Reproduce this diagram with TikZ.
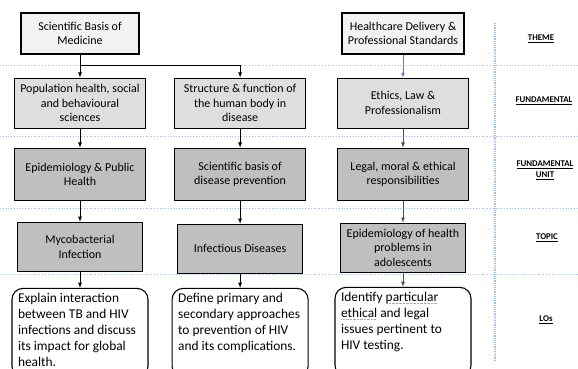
\documentclass[tikz,border=0pt]{standalone}
\usepackage{fontspec}
\setmainfont{Carlito}
\usetikzlibrary{positioning, arrows}

\definecolor{themefill}{HTML}{F2F2F2}
\definecolor{fundfill}{HTML}{DEDEDE}
\definecolor{unitfill}{HTML}{BFBFBF}
\definecolor{gridblue}{HTML}{A3BDE6}
\definecolor{linkblue}{HTML}{4F7FC9}
\definecolor{linkgray}{HTML}{505050}
\definecolor{spellgold}{HTML}{D2A64C}

\newsavebox{\spellbox}
\newcommand{\spellmark}[1]{\leavevmode\sbox{\spellbox}{#1}%
  \rlap{\raisebox{-2.4pt}{\color{spellgold}\hbox to \wd\spellbox{%
  \leaders\hbox to 1.4pt{\hss\rule{0.7pt}{0.7pt}\hss}\hfill}}}\usebox{\spellbox}}
\newcommand{\lobody}[1]{\parbox[t][79pt][t]{124pt}{\raggedright #1}}

\tikzset{
  box/.style={draw, line width=1.1pt, align=center, inner sep=2pt,
    font=\fontsize{12}{14.5}\selectfont},
  themebox/.style={box, fill=themefill, minimum height=41pt},
  fundbox/.style={box, fill=fundfill, minimum width=131pt, minimum height=50pt},
  unitbox/.style={box, fill=unitfill, minimum width=131pt, minimum height=52pt},
  topicbox/.style={box, fill=unitfill, minimum width=125pt, minimum height=49pt},
  lobox/.style={draw, line width=1.1pt, rounded corners=11pt, fill=white,
    minimum width=136pt, minimum height=89pt, inner sep=0pt,
    font=\fontsize{13.4}{16}\selectfont},
  rowlabel/.style={align=center, font=\fontsize{8.8}{11}\bfseries},
  link/.style={-latex, line width=0.8pt},
  rowline/.style={gridblue, dotted, line width=0.8pt}
}

\begin{document}
\begin{tikzpicture}[x=1pt, y=-1pt]
    \clip (0,0) rectangle (578,369);%

    % row separators
    \foreach \yy in {65, 136, 208, 274}
      \draw [rowline] (0,\yy) -- (578,\yy);%
    \draw [gridblue, densely dotted, line width=1.2pt] (495,23) -- (495,360);%

    % row labels
    \node [rowlabel] (lTheme) at (541,39) {\underline{THEME}};%
    \node [rowlabel] (lFund) at (544,101) {\underline{FUNDAMENTAL}};%
    \node [rowlabel] (lUnit) at (545,170) {\underline{FUNDAMENTAL}\\\underline{UNIT}};%
    \node [rowlabel] (lTopic) at (547,238) {\underline{TOPIC}};%
    \node [rowlabel] (lLO) at (546,320) {\underline{LOs}};%

    % themes
    \node [themebox, minimum width=118pt] (SBM) at (80,33.5)
    {Scientific Basis of\\Medicine};%
    \node [themebox, minimum width=122pt] (HDPS) at (403,33.5)
    {Healthcare Delivery \&\\Professional Standards};%

    % fundamentals
    \node [fundbox, below=23pt of SBM] (PopHealth)
    {Population health, social\\and behavioural\\sciences};%
    \node [fundbox, right=28pt of PopHealth] (Structure)
    {Structure \& function of\\the human body in\\disease};%
    \node [fundbox, below=23pt of HDPS] (Ethics)
    {Ethics, Law \&\\Professionalism};%

    % fundamental units
    \node [unitbox, below=19pt of PopHealth] (EpiPH)
    {Epidemiology \& Public\\Health};%
    \node [unitbox, below=19pt of Structure] (Prevention)
    {Scientific basis of\\disease prevention};%
    \node [unitbox, below=19pt of Ethics] (Legal)
    {Legal, moral \& ethical\\responsibilities};%

    % topics
    \node [topicbox, below=21pt of EpiPH] (Myco)
    {Mycobacterial\\Infection};%
    \node [topicbox, below=23pt of Prevention] (Infect)
    {Infectious Diseases};%
    \node [topicbox, below=22pt of Legal] (EpiAdo)
    {Epidemiology of health\\problems in\\adolescents};%

    % learning outcomes
    \node [lobox, below=16pt of Myco] (LOa)
    {\lobody{Explain interaction\\between TB and HIV\\infections and discuss\\its impact for global\\health.}};%
    \node [lobox, below=14pt of Infect] (LOb)
    {\lobody{Define primary and\\secondary approaches\\to prevention of HIV\\and its complications.}};%
    \node [lobox, below=14pt of EpiAdo] (LOc)
    {\lobody{Identify \spellmark{particular}\\\spellmark{ethical} and legal\\issues pertinent to\\HIV testing.}};%

    % arrows
    \coordinate [yshift=-11pt] (Split) at (SBM.south);%
    \draw [link] (SBM.south) -- (Split) -| (Structure.north);%
    \draw [link] (Split) -- (PopHealth.north);%
    \draw [link, linkblue, line width=0.6pt] (HDPS.south) -- (Ethics.north);%
    \draw [link] (PopHealth.south) -- (EpiPH.north);%
    \draw [link] (EpiPH.south) -- (Myco.north);%
    \draw [link] (Myco.south) -- (LOa.north);%
    \draw [link] (Structure.south) -- (Prevention.north);%
    \draw [link] (Prevention.south) -- (Infect.north);%
    \draw [link] (Infect.south) -- (LOb.north);%
    \draw [link, linkgray] (Ethics.south) -- (Legal.north);%
    \draw [link, linkgray] (Legal.south) -- (EpiAdo.north);%
    \draw [link, linkgray] (EpiAdo.south) -- (LOc.north);%
\end{tikzpicture}
\end{document}
